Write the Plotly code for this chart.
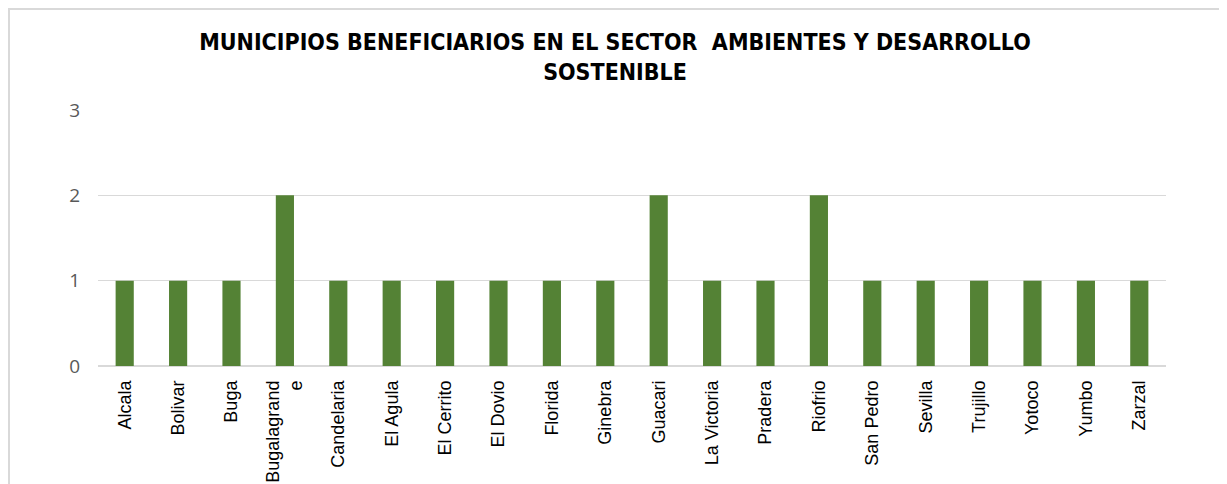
import plotly.graph_objects as go

municipios = ["Alcala", "Bolivar", "Buga", "Bugalagrand<br>e", "Candelaria", "El Agula",
              "El Cerrito", "El Dovio", "Florida", "Ginebra", "Guacari", "La Victoria",
              "Pradera", "Riofrio", "San Pedro", "Sevilla", "Trujillo", "Yotoco", "Yumbo", "Zarzal"]
valores = [1, 1, 1, 2, 1, 1, 1, 1, 1, 1, 2, 1, 1, 2, 1, 1, 1, 1, 1, 1]
y_ticks = [0, 1, 2, 3]

OFF = 8  # page offset of the figure
W, H = 1227 - OFF, 484 - OFF
L, R, T, B = 98 - OFF, 1227 - 1166, 110 - OFF, 484 - 366
pw, ph = W - L - R, H - T - B


def px_x(p):  # figure pixel -> paper x
    return (p - L) / pw


def px_y(p):  # figure pixel -> paper y
    return (T + ph - p) / ph


fig = go.Figure(go.Bar(x=municipios, y=valores, marker_color="#548235", marker_line_width=0))

fig.update_layout(
    width=W, height=H,
    margin=dict(l=L, r=R, t=T, b=B, autoexpand=False),
    paper_bgcolor="white", plot_bgcolor="white",
    bargap=0.66,
    showlegend=False,
    title=dict(
        text="<b>MUNICIPIOS BENEFICIARIOS EN EL SECTOR  AMBIENTES Y DESARROLLO<br>SOSTENIBLE</b>",
        x=(615 - OFF) / W, xanchor="center", xref="container",
        y=1 - 42 / H, yanchor="top", yref="container",
        font=dict(family="DejaVu Sans Condensed", size=23, color="#000000"),
    ),
    xaxis=dict(
        tickangle=-90, tickfont=dict(family="Liberation Sans", size=18, color="#000000"),
        showgrid=False, showline=False, ticks="", range=[-0.5, 19.5], ticklabelstandoff=10,
    ),
    yaxis=dict(
        range=[0, 3], tickvals=y_ticks, showgrid=True, gridcolor="#d9d9d9", gridwidth=1,
        zeroline=True, zerolinecolor="#d9d9d9", zerolinewidth=2,
        tickfont=dict(family="Open Sans", size=19, color="#595959"), ticklabelstandoff=17,
        showline=False,
    ),
    shapes=[dict(
        type="rect", xref="paper", yref="paper",
        x0=px_x(1), x1=px_x(1216),
        y0=px_y(H + 20), y1=px_y(1),
        line=dict(color="#d9d9d9", width=2), fillcolor="rgba(0,0,0,0)", layer="below",
    )],
)

fig.write_html("out.html")
